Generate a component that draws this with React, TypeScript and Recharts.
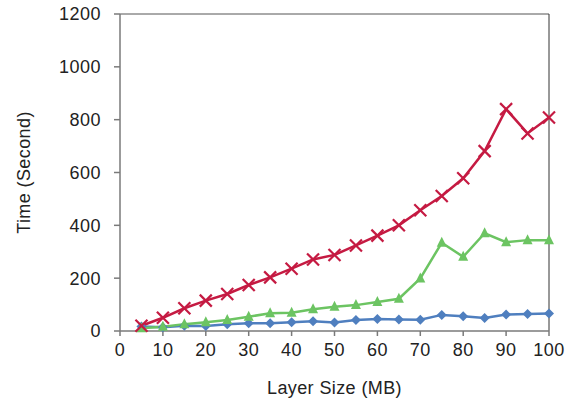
import React from "react";
import { LineChart, Line, XAxis, YAxis, ReferenceLine } from "recharts";

const layerSizes = [5, 10, 15, 20, 25, 30, 35, 40, 45, 50, 55, 60, 65, 70, 75, 80, 85, 90, 95, 100];
const blueSeries = [17, 14, 20, 19, 26, 29, 29, 33, 37, 32, 42, 45, 44, 43, 61, 56, 49, 62, 64, 66];
const greenSeries = [10, 16, 26, 33, 42, 54, 67, 69, 82, 92, 98, 110, 122, 199, 334, 281, 370, 336, 344, 344];
const redSeries = [20, 50, 86, 115, 140, 174, 203, 236, 271, 288, 324, 361, 400, 457, 511, 578, 681, 840, 748, 808];
const xTicks = [0, 10, 20, 30, 40, 50, 60, 70, 80, 90, 100];
const yTicks = [0, 200, 400, 600, 800, 1000, 1200];

const data = layerSizes.map((x, i) => ({
  x,
  blue: blueSeries[i],
  green: greenSeries[i],
  red: redSeries[i],
}));

const BLUE = "#4F7FBF";
const GREEN = "#6CC462";
const RED = "#C51A42";
const FONT = "'Liberation Sans', Arial, sans-serif";

const CrossDot = (props: any) => {
  const { cx, cy, index } = props;
  if (cx == null || cy == null) return null;
  const s = 6;
  return (
    <g key={`c${index}`}>
      <line x1={cx - s} y1={cy - s} x2={cx + s} y2={cy + s} stroke={RED} strokeWidth={2.2} />
      <line x1={cx - s} y1={cy + s} x2={cx + s} y2={cy - s} stroke={RED} strokeWidth={2.2} />
    </g>
  );
};

const TriDot = (props: any) => {
  const { cx, cy, index } = props;
  if (cx == null || cy == null) return null;
  const s = 5;
  return (
    <path
      key={`t${index}`}
      d={`M${cx},${cy - s - 1} L${cx + s},${cy + s - 1} L${cx - s},${cy + s - 1} Z`}
      fill={GREEN}
    />
  );
};

const DiamondDot = (props: any) => {
  const { cx, cy, index } = props;
  if (cx == null || cy == null) return null;
  const s = 5;
  return (
    <path
      key={`d${index}`}
      d={`M${cx},${cy - s} L${cx + s},${cy} L${cx},${cy + s} L${cx - s},${cy} Z`}
      fill={BLUE}
    />
  );
};

export default function App() {
  return (
    <div style={{ position: "absolute", left: 0, top: 0, width: 572, height: 398, background: "#fff" }}>
      <LineChart
        width={572}
        height={398}
        data={data}
        margin={{ top: 14, right: 23, bottom: 0, left: 0 }}
      >
        <XAxis
          dataKey="x"
          type="number"
          domain={[0, 100]}
          ticks={xTicks}
          interval={0}
          height={67}
          stroke="#7a7a7a"
          strokeWidth={1.5}
          tickSize={5}
          tickMargin={7}
          tick={{ fill: "#222", fontSize: 18, fontFamily: FONT, letterSpacing: 0.5 }}
          label={{
            value: "Layer Size (MB)",
            position: "insideBottom",
            offset: 4,
            fill: "#222",
            fontSize: 18,
            fontFamily: FONT,
            letterSpacing: 0.4,
          }}
        />
        <YAxis
          type="number"
          domain={[0, 1200]}
          ticks={yTicks}
          interval={0}
          width={120}
          stroke="#7a7a7a"
          strokeWidth={1.5}
          tickSize={6}
          tickMargin={13}
          tick={{ fill: "#222", fontSize: 18, fontFamily: FONT, letterSpacing: 0.5 }}
          label={{
            value: "Time (Second)",
            angle: -90,
            position: "insideLeft",
            offset: 24,
            style: { textAnchor: "middle" },
            fill: "#222",
            fontSize: 18,
            fontFamily: FONT,
            letterSpacing: 0.4,
          }}
        />
        <ReferenceLine y={1200} stroke="#555" strokeWidth={1} />
        <ReferenceLine x={100} stroke="#333" strokeWidth={1} />
        <Line
          dataKey="blue"
          stroke={BLUE}
          strokeWidth={2.5}
          dot={DiamondDot}
          isAnimationActive={false}
        />
        <Line
          dataKey="green"
          stroke={GREEN}
          strokeWidth={2.5}
          dot={TriDot}
          isAnimationActive={false}
        />
        <Line
          dataKey="red"
          stroke={RED}
          strokeWidth={2.5}
          dot={CrossDot}
          isAnimationActive={false}
        />
      </LineChart>
    </div>
  );
}
